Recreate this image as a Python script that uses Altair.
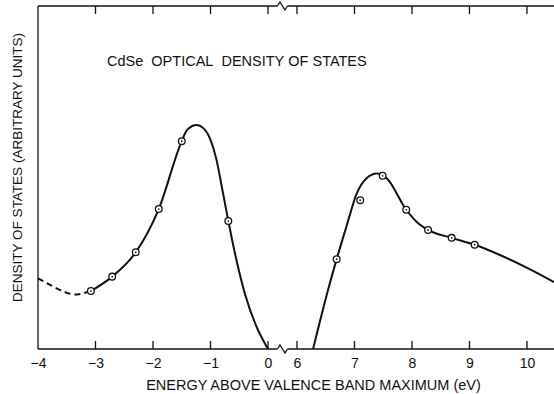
import altair as alt
import pandas as pd

# ---------------- data ----------------
# dashed (extrapolated) part of the valence-band curve
dash_E = [-4.0, -3.79, -3.59, -3.36, -3.08]
dash_D = [20.6, 18.7, 17.0, 15.9, 16.9]
# solid valence-band curve
left_E = [-3.08, -2.71, -2.30, -1.90, -1.50, -1.41, -1.24, -1.125, -1.0, -0.9,
          -0.8, -0.69, -0.55, -0.4, -0.2, 0.0]
left_D = [16.9, 21.1, 28.2, 40.8, 60.6, 63.8, 65.3, 64.4, 61.0, 55.5,
          47.0, 37.3, 26.0, 16.0, 6.5, 0.0]
# conduction-band curve
right_E = [6.28, 6.54, 6.69, 6.86, 7.04, 7.21, 7.39, 7.56, 7.90, 8.08,
           8.28, 8.69, 9.09, 9.53, 10.02, 10.47]
right_D = [0.0, 17.2, 26.2, 35.7, 45.4, 49.8, 51.2, 49.8, 40.6, 37.1,
           34.7, 32.4, 30.4, 27.4, 23.5, 19.5]
# measured points (circles)
pt_E = [-3.08, -2.71, -2.30, -1.90, -1.50, -0.69,
        6.69, 7.10, 7.49, 7.90, 8.28, 8.69, 9.09]
pt_D = [16.9, 21.1, 28.2, 40.8, 60.6, 37.3,
        26.2, 43.4, 50.5, 40.6, 34.7, 32.4, 30.4]
# axis ticks / labels (eV)
tick_E = [-3, -2, -1, 0, 6, 7, 8, 9, 10]
label_E = [-4, -3, -2, -1, 0, 6, 7, 8, 9, 10]
NB = "\u00a0"
annotation = [f"CdSe{NB}{NB}OPTICAL{NB}{NB}DENSITY{NB}OF{NB}STATES"]

# ---------------- broken axis mapping ----------------
GAP = 0.504            # width of the break, in eV-units of the plot
SHIFT = 6 - GAP        # right part: plotted x = E - SHIFT
XMIN = -4.0
W, H = 516, 343
PX = 57.5              # pixels per eV
XMAX = XMIN + W / PX
BREAK = GAP / 2


def to_x(e):
    return e if e <= BREAK else e - SHIFT


FONT = "Liberation Sans"
INK = "#111111"

xscale = alt.Scale(domain=[XMIN, XMAX], nice=False, zero=False)
yscale = alt.Scale(domain=[0, 100], nice=False, zero=False)

x_axis = alt.Axis(
    values=[to_x(e) for e in label_E],
    labelExpr=f"format(datum.value > {BREAK} ? datum.value + {SHIFT} : datum.value, '.0f')",
    domain=False, ticks=False, grid=False,
    labelFont=FONT, labelFontSize=14, labelColor=INK, labelPadding=7,
    labelBaseline="top", labelFlush=False, labelOverlap=False,
    title="ENERGY ABOVE VALENCE BAND MAXIMUM (eV)",
    titleFont=FONT, titleFontSize=14.5, titleFontWeight="normal", titleColor=INK,
    titleX=275, titleY=36, titleBaseline="middle", titleAlign="center",
)
y_axis = alt.Axis(
    labels=False, ticks=False, domain=False, grid=False,
    title="DENSITY OF STATES (ARBITRARY UNITS)",
    titleFont=FONT, titleFontSize=13.5, titleFontWeight="normal", titleColor=INK,
    titleX=-21, titleY=161, titleAngle=270, titleAlign="center", titleBaseline="middle",
)


def X(field="x"):
    return alt.X(f"{field}:Q", scale=xscale, axis=x_axis)


def Y(field="y"):
    return alt.Y(f"{field}:Q", scale=yscale, axis=y_axis)


curves = pd.DataFrame({
    "x": [to_x(e) for e in left_E] + [to_x(e) for e in right_E],
    "y": left_D + right_D,
    "seg": ["L"] * len(left_E) + ["R"] * len(right_E),
})
dashed = pd.DataFrame({"x": [to_x(e) for e in dash_E], "y": dash_D})
pts = pd.DataFrame({"x": [to_x(e) for e in pt_E], "y": pt_D})
ticks = pd.DataFrame({"x": [to_x(e) for e in tick_E]})

# frame (left, bottom and top lines, interrupted at the break)
dx = 5 / PX
frame = pd.DataFrame({
    "x": [XMIN, XMIN, BREAK + dx, XMIN, BREAK + dx],
    "x2": [XMIN, BREAK - dx, XMAX, BREAK - dx, XMAX],
    "y": [0, 0, 0, 100, 100],
    "y2": [100, 0, 0, 100, 100],
})
frame_layer = alt.Chart(frame).mark_rule(color=INK, strokeWidth=1.3).encode(
    x=X(), x2="x2:Q", y=Y(), y2="y2:Q",
)

# zigzag break symbols on top and bottom lines
zz_dx = [-5, -2.5, 2.5, 5]
zz_dy = [0, 4, -4, 0]
zz_rows = []
for base, g in [(0, "b"), (100, "t")]:
    for ddx, ddy in zip(zz_dx, zz_dy):
        zz_rows.append({"x": BREAK + ddx / PX, "y": base + ddy * 100 / H, "g": g})
zz = pd.DataFrame(zz_rows)
zig_layer = alt.Chart(zz).mark_line(color=INK, strokeWidth=1.3).encode(
    x=X(), y=Y(), detail="g:N",
)

# inward ticks
bottom_ticks = alt.Chart(ticks).mark_rule(color=INK, strokeWidth=1.3).encode(
    x=X(), y=alt.value(H), y2=alt.value(H - 8)
)
top_ticks = alt.Chart(ticks).mark_rule(color=INK, strokeWidth=1.3).encode(
    x=X(), y=alt.value(0), y2=alt.value(8)
)

curve_layer = alt.Chart(curves).mark_line(
    color=INK, strokeWidth=2, interpolate="monotone"
).encode(x=X(), y=Y(), detail="seg:N")

dash_layer = alt.Chart(dashed).mark_line(
    color=INK, strokeWidth=2, strokeDash=[6, 4], interpolate="monotone"
).encode(x=X(), y=Y())

circle_layer = alt.Chart(pts).mark_point(
    shape="circle", filled=True, fill="white", stroke=INK, strokeWidth=1.3,
    size=45, opacity=1
).encode(x=X(), y=Y())

dot_layer = alt.Chart(pts).mark_circle(size=3, color=INK, opacity=1).encode(
    x=X(), y=Y()
)

text_layer = alt.Chart(pd.DataFrame({"t": annotation})).mark_text(
    align="left", baseline="middle", font=FONT, fontSize=14.5, color=INK
).encode(text="t:N", x=alt.value(69), y=alt.value(56))

chart = alt.layer(
    curve_layer, frame_layer, zig_layer, bottom_ticks, top_ticks,
    dash_layer, circle_layer, dot_layer, text_layer,
).properties(
    width=W, height=H,
    autosize=alt.AutoSizeParams(type="none"),
    padding={"left": 38, "top": 6, "right": 0, "bottom": 45},
    background="white",
).configure_view(stroke=None)

chart.save("out.html", embed_options={"renderer": "svg", "actions": False})
